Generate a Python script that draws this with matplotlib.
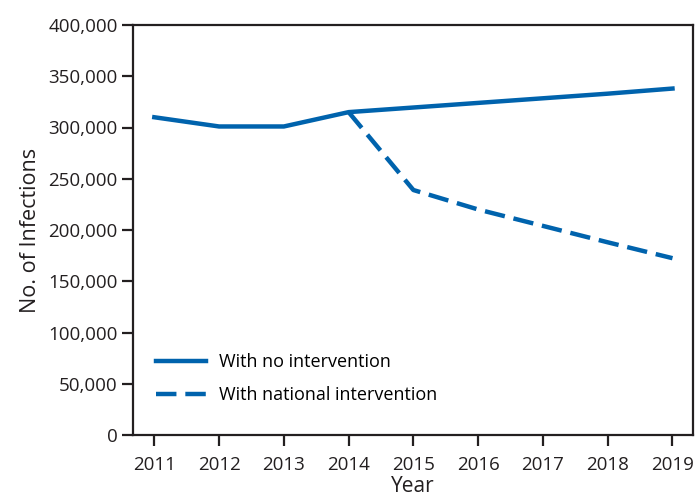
import matplotlib.pyplot as plt
from matplotlib.ticker import FuncFormatter

plt.rcParams['font.family'] = ['Open Sans', 'DejaVu Sans']

years = [2011, 2012, 2013, 2014, 2015, 2016, 2017, 2018, 2019]
no_intervention = [310000, 301000, 301000, 315000, 319500, 324000, 328500, 333000, 338000]
nat_years = [2014, 2015, 2016, 2017, 2018, 2019]
national_intervention = [315000, 239000, 220000, 204000, 188000, 172500]

blue = '#0063ad'
dark = '#231f20'

fig = plt.figure(figsize=(6.96, 5.0), dpi=100)
ax = fig.add_axes([0.191, 0.13, 0.805, 0.82])

ax.plot(years, no_intervention, color=blue, lw=3.2, solid_joinstyle='miter',
        label='With no intervention')
ax.plot(nat_years, national_intervention, color=blue, lw=3.2, dashes=(4.6, 2.0),
        label='With national intervention')

ax.set_xlim(2010.67, 2019.32)
ax.set_ylim(0, 400000)
ax.set_xticks(years)
ax.set_yticks(range(0, 400001, 50000))
ax.yaxis.set_major_formatter(FuncFormatter(lambda v, p: f'{int(v):,}'))

for s in ax.spines.values():
    s.set_linewidth(1.6)
    s.set_color(dark)
ax.tick_params(axis='both', colors=dark, width=1.6, length=8, labelsize=13.5,
               labelcolor=dark)
ax.tick_params(axis='x', pad=7)
ax.tick_params(axis='y', pad=3)

ax.set_xlabel('Year', fontsize=15, color=dark, labelpad=1.5)
ax.set_ylabel('No. of Infections', fontsize=15.5, color=dark, labelpad=5)

ax.legend(loc='lower left', bbox_to_anchor=(0.041, 0.075), bbox_transform=ax.transAxes,
          frameon=False, fontsize=13, handlelength=2.75, handletextpad=0.75,
          labelspacing=0.85, borderaxespad=0, borderpad=0)

fig.savefig('out.png', dpi=100)
